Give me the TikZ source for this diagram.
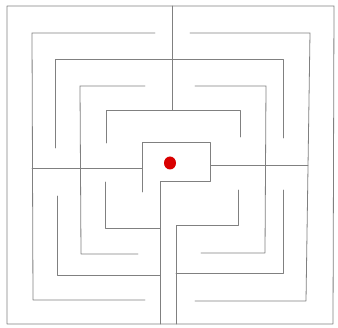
\documentclass[tikz,border=0pt]{standalone}
\usetikzlibrary{shapes.geometric}
\begin{document}
\begin{tikzpicture}[x=1pt,y=-1pt,
  wall/.style={draw=black!50,line width=0.8pt,line cap=round,line join=round},
  dot/.style={fill=red!85!black,draw=none,ellipse,minimum width=12pt,minimum height=13pt,inner sep=0pt}]
\useasboundingbox (0,0) rectangle (338,328);
% outer frame
\draw[wall] (7,6) -- (334,6) -- (333,324) -- (7,324) -- cycle;
% top spine
\draw[wall] (172,6) -- (172,110);
% top-left quadrant
\draw[wall] (155,33) -- (32,33) -- (33,300) -- (145,300);
\draw[wall] (283,138) -- (283,59) -- (55,59) -- (55,148);
\draw[wall] (145,86) -- (80,86) -- (81,254) -- (138,254);
\draw[wall] (106,143) -- (106,110) -- (240,110) -- (240,137);
% top-right quadrant
\draw[wall] (190,33) -- (310,33) -- (306,301) -- (195,301);
\draw[wall] (195,86) -- (266,86) -- (265,253) -- (201,253);
% cross arms
\draw[wall] (32,168) -- (142,168);
\draw[wall] (211,165) -- (308,165);
% centre box
\draw[wall] (142,192) -- (142,142) -- (210,142) -- (210,181) -- (160,181) -- (160,324);
% bottom-left
\draw[wall] (57,196) -- (57,275) -- (160,275);
\draw[wall] (105,182) -- (105,228) -- (160,228);
% bottom-right
\draw[wall] (176,324) -- (176,225) -- (238,225) -- (238,190);
\draw[wall] (176,273) -- (283,273) -- (283,190);
% goal
\node[dot] (goal) at (170,163) {};
\end{tikzpicture}
\end{document}
